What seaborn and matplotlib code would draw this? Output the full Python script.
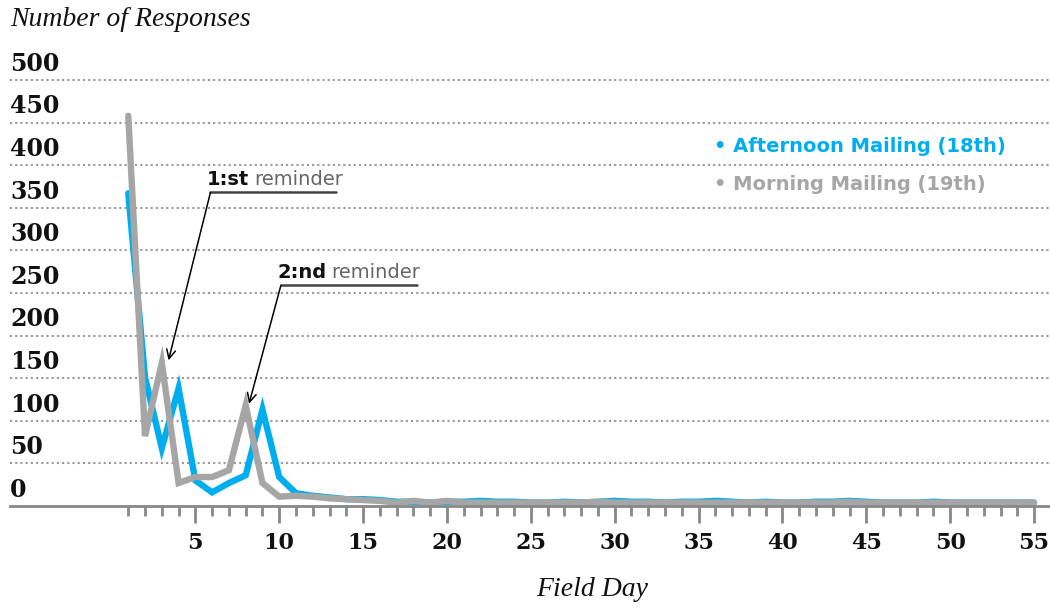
import matplotlib
matplotlib.use("Agg")
import matplotlib.pyplot as plt
import matplotlib.transforms as mtransforms
import seaborn as sns
import pandas as pd
import numpy as np

days = list(range(1, 56))
afternoon = [367, 151, 68, 138, 30, 16, 27, 36, 113, 34, 15, 12, 10, 8, 8, 7, 5, 5, 4, 5,
             5, 6, 5, 5, 4, 4, 5, 4, 5, 6, 5, 5, 4, 5, 5, 6, 5, 4, 5, 4,
             4, 5, 5, 6, 5, 4, 4, 4, 5, 4, 4, 4, 4, 4, 4]
morning = [458, 82, 168, 27, 34, 34, 42, 118, 27, 11, 12, 11, 9, 8, 7, 6, 4, 6, 4, 6,
           4, 4, 4, 4, 4, 4, 4, 4, 5, 4, 4, 4, 4, 4, 4, 4, 4, 4, 4, 4,
           4, 4, 4, 5, 4, 4, 4, 4, 4, 4, 4, 4, 4, 4, 4]
series_names = ["Afternoon Mailing (18th)", "Morning Mailing (19th)"]
colors = ["#00AEEF", "#A6A6A6"]
y_ticks = [0, 50, 100, 150, 200, 250, 300, 350, 400, 450, 500]
x_major = [5, 10, 15, 20, 25, 30, 35, 40, 45, 50, 55]

df = pd.DataFrame({
    "day": days * 2,
    "responses": afternoon + morning,
    "series": [series_names[0]] * len(days) + [series_names[1]] * len(days),
})

sns.set_theme(style="white")
fig = plt.figure(figsize=(10.5, 6.08), dpi=100)
W, H = 1050, 608
ax = fig.add_axes([10 / W, (608 - 506) / H, 1040 / W, 426 / H])

sns.lineplot(data=df, x="day", y="responses", hue="series", palette=colors,
             linewidth=4.6, legend=False, ax=ax, solid_capstyle="round",
             solid_joinstyle="miter")

ax.set_xlim(-6.05, 55.95)
ax.set_ylim(0, 500)
for s in ["top", "right", "left"]:
    ax.spines[s].set_visible(False)
ax.spines["bottom"].set_color("#888888")
ax.spines["bottom"].set_linewidth(2)

# gridlines
for v in y_ticks[1:]:
    ax.axhline(v, color="#999999", linestyle=(0, (1, 1.5)), linewidth=1.5,
               zorder=0, clip_on=False)

# y labels above gridlines
ax.set_yticks([])
serif = "DejaVu Serif"
iserif = "Liberation Serif"
trans = mtransforms.blended_transform_factory(ax.transAxes, ax.transData)
for v in y_ticks:
    ax.text(0, v + 19, str(v), transform=trans, ha="left", va="center",
            fontsize=17, fontweight="bold", family=serif, color="#111111")

# x ticks
ax.set_xticks(x_major)
ax.set_xticks([d for d in days if d not in x_major], minor=True)
ax.set_xticklabels([str(v) for v in x_major], fontsize=16, fontweight="bold",
                   family=serif, color="#111111")
ax.tick_params(axis="x", which="major", length=12, width=2, color="#888888",
               pad=7, bottom=True)
ax.tick_params(axis="x", which="minor", length=7, width=2, color="#888888",
               bottom=True)
ax.set_xlabel("")
ax.set_ylabel("")

fig.text(592 / W, 1 - 590 / H, "Field Day", fontsize=20, style="italic",
         family=iserif, color="#111111", ha="center", va="center")
fig.text(10 / W, 1 - 20 / H, "Number of Responses", fontsize=20, style="italic",
         family=iserif, color="#111111", ha="left", va="center")

# legend as text
sans = "DejaVu Sans"
fig.text(714 / W, 1 - 147 / H, "\u2022 " + series_names[0], fontsize=14,
         fontweight="bold", family=sans, color=colors[0], ha="left", va="center")
fig.text(714 / W, 1 - 185 / H, "\u2022 " + series_names[1], fontsize=14,
         fontweight="bold", family=sans, color=colors[1], ha="left", va="center")

# annotations
def reminder(x0, x1, y, tip, bold):
    t = ax.text(x0 - 0.2, y + 4, bold, fontsize=14, fontweight="bold",
                family=sans, color="#111111", ha="left", va="bottom")
    fig.canvas.draw()
    bb = t.get_window_extent()
    xe = ax.transData.inverted().transform((bb.x1, bb.y0))[0]
    ax.text(xe + 0.3, y + 4, "reminder", fontsize=14, fontweight="normal",
            family=sans, color="#666666", ha="left", va="bottom")
    ax.plot([x0, x1], [y, y], color="#444444", linewidth=1.8)
    ax.annotate("", xy=tip, xytext=(x0, y),
                arrowprops=dict(arrowstyle="->", color="black", lw=1.1,
                                shrinkA=0, shrinkB=0, mutation_scale=16))

reminder(5.9, 13.4, 368, (3.4, 171), "1:st")
reminder(10.1, 18.2, 259, (8.2, 120), "2:nd")

fig.savefig("out.png", dpi=100)
